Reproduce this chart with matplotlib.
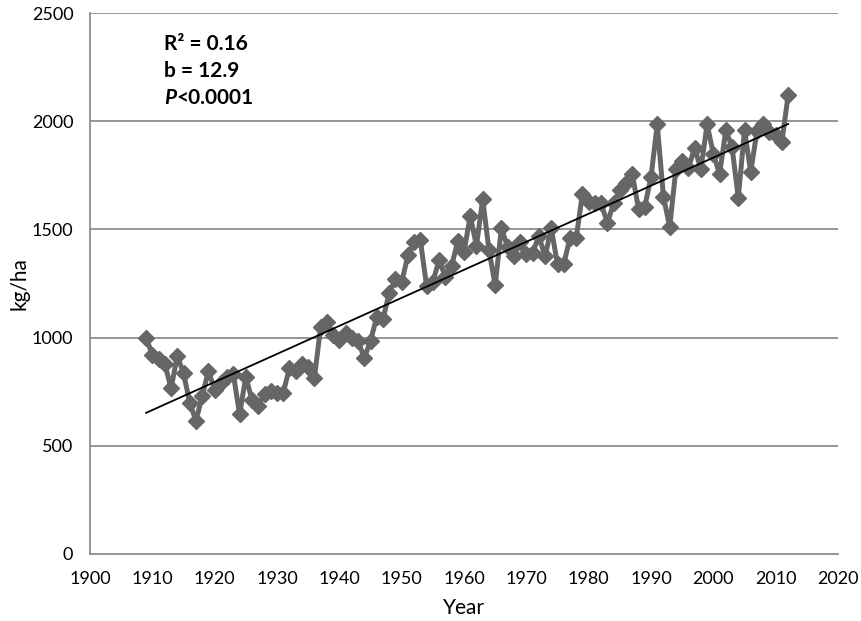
import numpy as np
import matplotlib
matplotlib.use("Agg")
import matplotlib.pyplot as plt

plt.rcParams['font.family'] = ['Lato', 'DejaVu Sans']

years = list(range(1909, 2013))
yield_kg_ha = [
    1000, 920, 900, 880, 765, 915, 835, 700, 615, 730,   # 1909-1918
    845, 760, 790, 820, 830, 645, 820, 710, 685, 740,    # 1919-1928
    755, 745, 745, 860, 845, 880, 862, 813, 1050, 1072,  # 1929-1938
    1010, 990, 1020, 1000, 985, 905, 985, 1095, 1085, 1206,  # 1939-1948
    1270, 1255, 1380, 1440, 1450, 1238, 1255, 1360, 1280, 1330,  # 1949-1958
    1445, 1395, 1562, 1425, 1640, 1405, 1242, 1505, 1420, 1375,  # 1959-1968
    1440, 1385, 1390, 1470, 1375, 1505, 1338, 1340, 1460, 1460,  # 1969-1978
    1665, 1625, 1620, 1620, 1530, 1620, 1682, 1715, 1755, 1595,  # 1979-1988
    1605, 1742, 1985, 1650, 1512, 1780, 1815, 1785, 1876, 1778,  # 1989-1998
    1985, 1850, 1755, 1958, 1880, 1645, 1958, 1765, 1955, 1985,  # 1999-2008
    1950, 1935, 1905, 2120,                                   # 2009-2012
]

x_ticks = list(range(1900, 2021, 10))
y_ticks = [0, 500, 1000, 1500, 2000, 2500]

fig = plt.figure(figsize=(8.62, 6.21), dpi=100)
ax = fig.add_axes([90 / 862, 1 - 554 / 621, (838 - 90) / 862, (554 - 13) / 621])

grid_c = "#8c8c8c"
for yt in y_ticks[1:]:
    ax.axhline(yt, color=grid_c, lw=1.3, zorder=0)

ax.plot(years, yield_kg_ha, color="#666666", lw=3.6, marker="D",
        markersize=8.5, markerfacecolor="#666666", markeredgecolor="#666666",
        zorder=2)

# linear trend line
coef = np.polyfit(years, yield_kg_ha, 1)
yr = np.array([years[0], years[-1]])
ax.plot(yr, np.polyval(coef, yr), color="black", lw=1.3, zorder=3)

ax.set_xlim(1900, 2020)
ax.set_ylim(0, 2500)
ax.set_xticks(x_ticks)
ax.set_yticks(y_ticks)
ax.tick_params(axis="both", length=0, labelsize=13, colors="#000000")
ax.tick_params(axis="x", pad=12)
ax.tick_params(axis="y", pad=12)

for s in ["top", "right"]:
    ax.spines[s].set_visible(False)
for s in ["left", "bottom"]:
    ax.spines[s].set_color(grid_c)
    ax.spines[s].set_linewidth(1.3)

ax.set_xlabel("Year", fontsize=15, labelpad=8)
ax.set_ylabel("kg/ha", fontsize=15)
ax.yaxis.set_label_coords(-0.081, 0.5)

# regression statistics
tx = 1911.9
ax.text(tx, 2358, "R² = 0.16", fontsize=15, fontweight="bold", va="center")
ax.text(tx, 2233, "b = 12.9", fontsize=15, fontweight="bold", va="center")
p_txt = ax.text(tx, 2108, "P", fontsize=15, fontweight="bold",
                fontstyle="italic", va="center")
ax.annotate("<0.0001", xy=(1, 0), xycoords=p_txt, fontsize=15,
            fontweight="bold", va="bottom", ha="left")

fig.savefig("out.png", dpi=100)
